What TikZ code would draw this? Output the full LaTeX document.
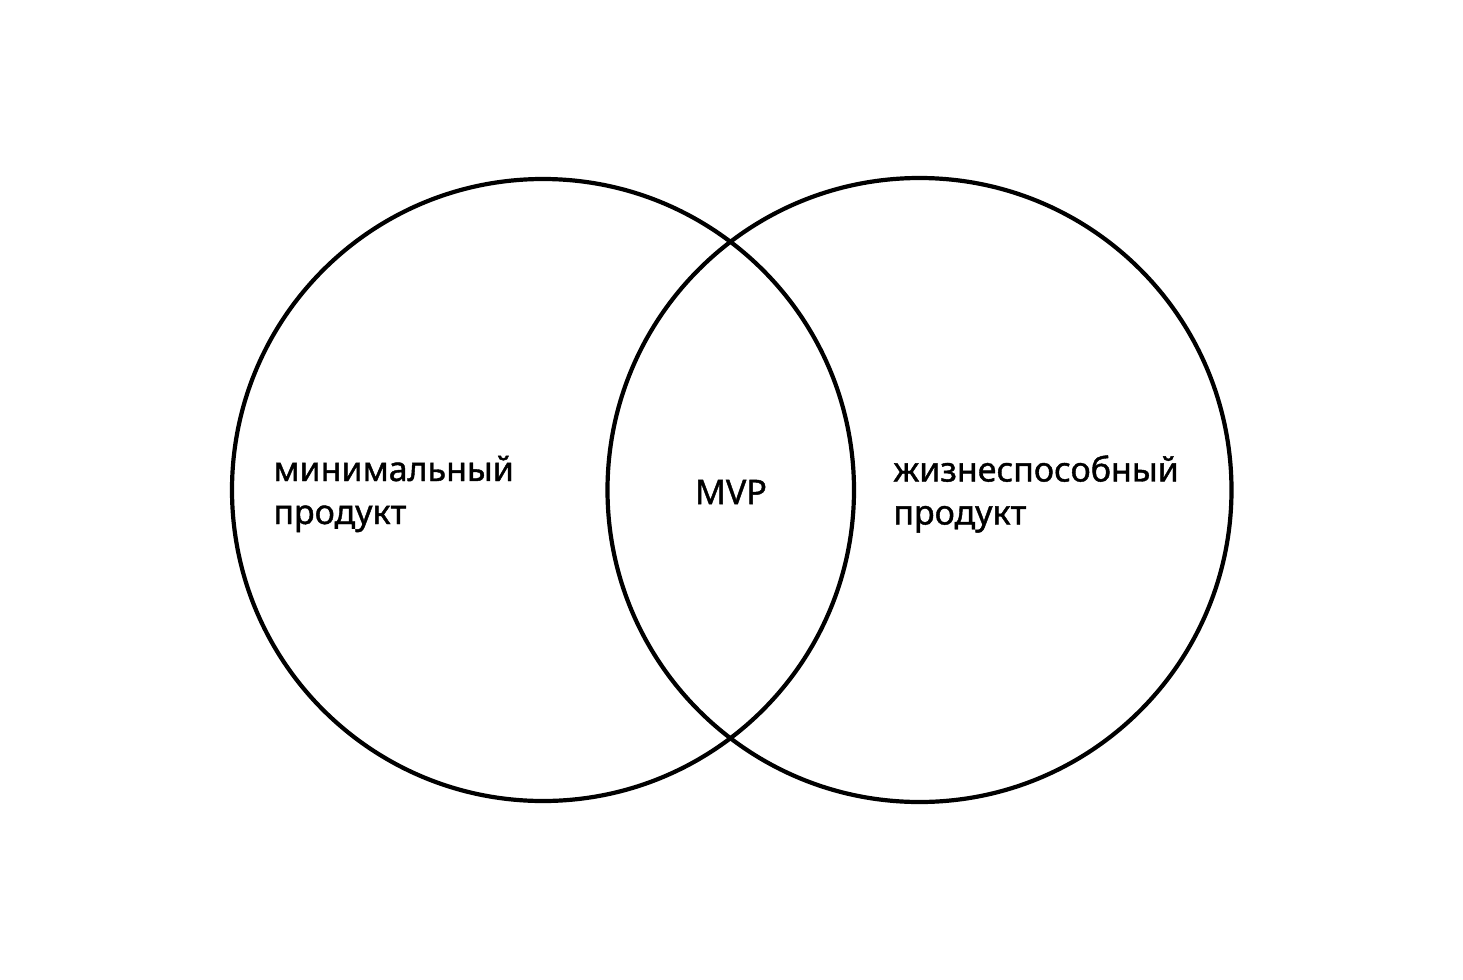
\documentclass[tikz,border=0pt]{standalone}
\usepackage{fontspec}
\setmainfont{Noto Sans}[FakeBold=1.2]
\begin{document}
\begin{tikzpicture}[x=0.5pt,y=-0.5pt,
  ring/.style={draw=black,line width=2.1pt},
  lbl/.style={font=\fontsize{17pt}{21.5pt}\selectfont,inner sep=0pt,align=left}]
\useasboundingbox (0,0) rectangle (1463,980);
\node[ring,circle,minimum size=622*0.5pt,inner sep=0pt] (L) at (543,490) {};
\node[ring,circle,minimum size=624*0.5pt,inner sep=0pt] (R) at (919.5,490) {};
\node[lbl,anchor=west] (tl) at (273,494) {минимальный\\продукт};
\node[lbl] (tm) at (731,492) {MVP};
\node[lbl,anchor=west] (tr) at (893,494) {жизнеспособный\\продукт};
\end{tikzpicture}
\end{document}
